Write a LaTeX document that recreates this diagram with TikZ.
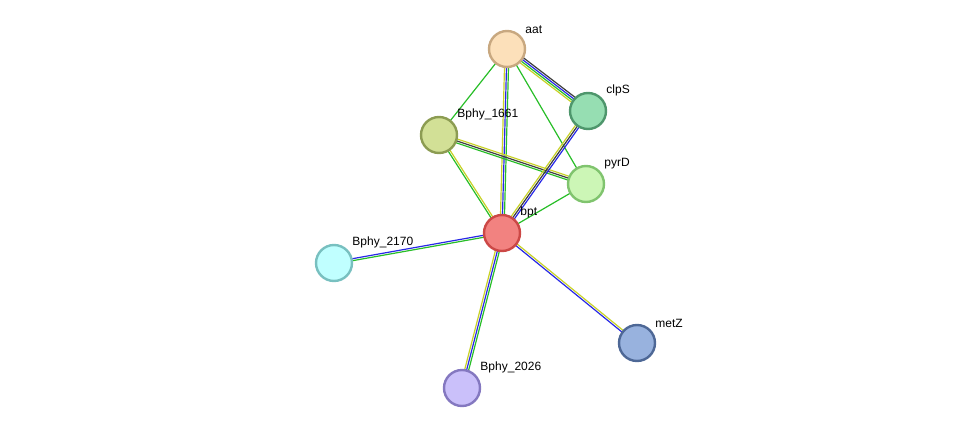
\documentclass[tikz,border=0pt]{standalone}
\usepackage{fontspec}
\setmainfont{Liberation Sans}
\usetikzlibrary{calc,backgrounds}
\definecolor{eyel}{RGB}{200,210,40}
\definecolor{egrn}{RGB}{40,190,40}
\definecolor{eblu}{RGB}{40,40,230}
\definecolor{eblk}{RGB}{60,60,60}
\tikzset{
  prot/.style={circle, minimum size=36pt, line width=2.4pt, inner sep=0pt},
  lbl/.style={font=\fontsize{12}{13}\selectfont, inner sep=1pt, label distance=1pt, xshift=3pt},
  edge/.style={line width=1.2pt},
}
% parallel strands of one interaction: \links{a}{b}{offset/colour,...}
\newcommand\links[3]{%
  \foreach \o/\c in {#3}{%
    \draw[edge, \c] ($(#1)!\o pt!90:(#2)$) -- ($(#2)!\o pt!-90:(#1)$);
  }%
}
\begin{document}
\begin{tikzpicture}[x=1pt, y=-1pt]
\useasboundingbox (0,0) rectangle (975,434);
% --- Nodes ---
\node[prot, fill={rgb,255:red,252;green,224;blue,186}, draw={rgb,255:red,200;green,168;blue,128},
  label={[lbl]45:aat}] (aat) at (507,49) {};
\node[prot, fill={rgb,255:red,150;green,222;blue,178}, draw={rgb,255:red,78;green,150;blue,108},
  label={[lbl]45:clpS}] (clpS) at (588,111) {};
\node[prot, fill={rgb,255:red,210;green,224;blue,150}, draw={rgb,255:red,140;green,156;blue,82},
  label={[lbl]45:Bphy\_1661}] (b1661) at (439,135) {};
\node[prot, fill={rgb,255:red,204;green,246;blue,182}, draw={rgb,255:red,128;green,196;blue,110},
  label={[lbl]45:pyrD}] (pyrD) at (586,184) {};
\node[prot, fill={rgb,255:red,242;green,130;blue,128}, draw={rgb,255:red,204;green,72;blue,70},
  label={[lbl]45:bpt}] (bpt) at (502,233) {};
\node[prot, fill={rgb,255:red,192;green,255;blue,255}, draw={rgb,255:red,120;green,192;blue,192},
  label={[lbl]45:Bphy\_2170}] (b2170) at (334,263) {};
\node[prot, fill={rgb,255:red,152;green,178;blue,222}, draw={rgb,255:red,78;green,104;blue,150},
  label={[lbl]45:metZ}] (metZ) at (637,343) {};
\node[prot, fill={rgb,255:red,202;green,192;blue,250}, draw={rgb,255:red,132;green,120;blue,192},
  label={[lbl]45:Bphy\_2026}] (b2026) at (462,388) {};
% --- Edges ---
\begin{pgfonlayer}{background}
\links{aat}{clpS}{-3/eyel,-1/egrn,1/eblu,3/eblk}
\links{aat}{b1661}{0/egrn}
\links{aat}{bpt}{-2/eyel,0/eblu,2/egrn}
\links{aat}{pyrD}{0/egrn}
\links{b1661}{pyrD}{-2/egrn,0/eblk,2/eyel}
\links{b1661}{bpt}{-1/egrn,1/eyel}
\links{clpS}{bpt}{-2/eyel,0/eblk,2/eblu}
\links{pyrD}{bpt}{0/egrn}
\links{bpt}{b2170}{-1/eblu,1/egrn}
\links{bpt}{metZ}{-1/eblu,1/eyel}
\links{bpt}{b2026}{-2/eyel,0/eblu,2/egrn}
\end{pgfonlayer}
\end{tikzpicture}
\end{document}
